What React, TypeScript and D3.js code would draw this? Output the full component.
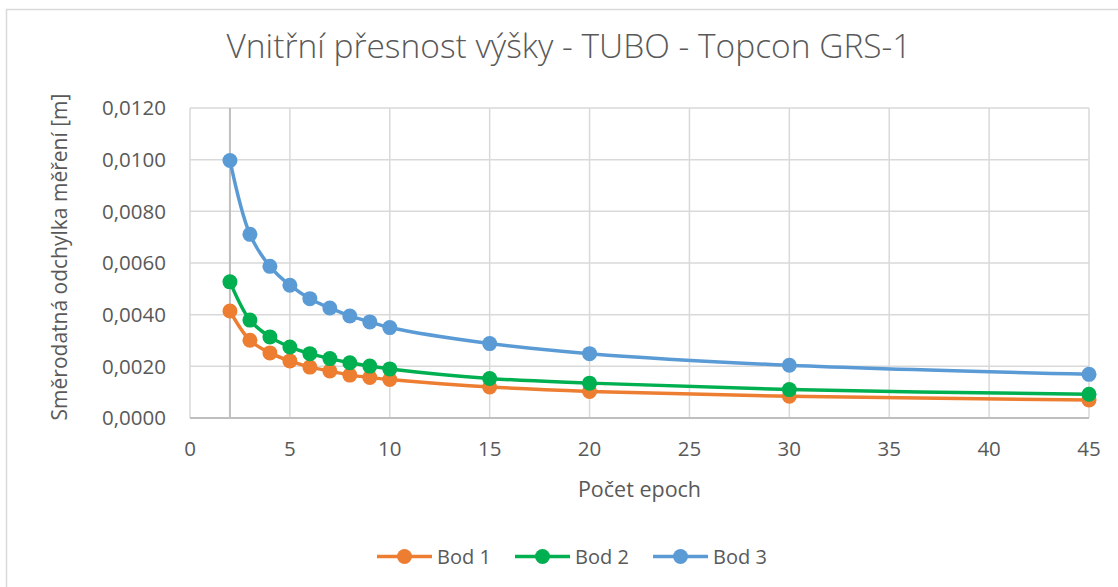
import * as d3 from 'd3';

const epochs = [2, 3, 4, 5, 6, 7, 8, 9, 10, 15, 20, 30, 45];
const bod1 = [0.00414, 0.00301, 0.00252, 0.00221, 0.00197, 0.00182, 0.00166, 0.00157, 0.00149, 0.0012, 0.00103, 0.00084, 0.0007];
const bod2 = [0.00527, 0.00379, 0.00314, 0.00275, 0.00249, 0.0023, 0.00214, 0.00201, 0.0019, 0.00153, 0.00135, 0.0011, 0.00092];
const bod3 = [0.00997, 0.00711, 0.00587, 0.00514, 0.00462, 0.00426, 0.00395, 0.00372, 0.0035, 0.00288, 0.00249, 0.00204, 0.00169];
const seriesNames = ['Bod 1', 'Bod 2', 'Bod 3'];
const seriesColors = ['#ED7D31', '#00B050', '#5B9BD5'];
const xTicks = [0, 5, 10, 15, 20, 25, 30, 35, 40, 45];
const yTicks = [0, 0.002, 0.004, 0.006, 0.008, 0.01, 0.012];

const W = 1118;
const H = 587;
const margin = { left: 190, right: 29, top: 108, bottom: 169 };
const font = '"Open Sans", "Noto Sans", sans-serif';
const textColor = '#595959';

const App = () => {
  const x = d3.scaleLinear([0, 45], [margin.left, W - margin.right]);
  const y = d3.scaleLinear([0, 0.012], [H - margin.bottom, margin.top]);
  const fmt = (v: number) => v.toFixed(4).replace('.', ',');

  const all = [bod1, bod2, bod3];
  const line = d3
    .line<number>()
    .x((_, i) => x(epochs[i]))
    .y((d) => y(d))
    .curve(d3.curveCatmullRom.alpha(0.5));

  return (
    <svg width={W} height={H} style={{ position: 'absolute', left: 0, top: 0, background: '#fff' }}>
      <rect x={6.5} y={9.5} width={W + 20} height={H + 20} fill="#fff" stroke="#d9d9d9" strokeWidth={1.5} />

      <text x={569} y={58} textAnchor="middle" fontFamily={font} fontWeight={300} fontSize={33.5} fill={textColor}>
        Vnitřní přesnost výšky - TUBO - Topcon GRS-1
      </text>

      {/* grid */}
      {yTicks.map((t) => (
        <line key={'gy' + t} x1={x(0)} x2={x(45)} y1={y(t)} y2={y(t)} stroke="#d9d9d9" strokeWidth={1.5} />
      ))}
      {xTicks.map((t) => (
        <line key={'gx' + t} x1={x(t)} x2={x(t)} y1={y(0)} y2={y(0.012)} stroke="#d9d9d9" strokeWidth={1.5} />
      ))}
      {/* vertical axis crossing at x = 2 */}
      <line x1={x(2)} x2={x(2)} y1={y(0)} y2={y(0.012)} stroke="#bfbfbf" strokeWidth={2} />
      <line x1={x(0)} x2={x(45)} y1={y(0)} y2={y(0)} stroke="#bfbfbf" strokeWidth={2} />

      {yTicks.map((t) => (
        <text key={'ly' + t} x={166} y={y(t)} dy="0.36em" textAnchor="end" fontFamily={font} fontSize={20.5} fill={textColor}>
          {fmt(t)}
        </text>
      ))}
      {xTicks.map((t) => (
        <text key={'lx' + t} x={x(t)} y={456} textAnchor="middle" fontFamily={font} fontSize={20.5} fill={textColor}>
          {t}
        </text>
      ))}

      <text x={x(22.5)} y={497} textAnchor="middle" fontFamily={font} fontSize={21.5} fill={textColor}>
        Počet epoch
      </text>
      <text
        transform={`translate(67,${(y(0) + y(0.012)) / 2 - 6}) rotate(-90)`}
        textAnchor="middle"
        fontFamily={font}
        fontSize={21}
        fill={textColor}
      >
        Směrodatná odchylka měření [m]
      </text>

      {all.map((s, k) => (
        <g key={'s' + k}>
          <path d={line(s) ?? ''} fill="none" stroke={seriesColors[k]} strokeWidth={3.5} />
          {s.map((v, i) => (
            <circle key={i} cx={x(epochs[i])} cy={y(v)} r={7.5} fill={seriesColors[k]} />
          ))}
        </g>
      ))}

      {seriesNames.map((n, k) => {
        const lx = 377 + k * 138;
        const ly = 556.5;
        return (
          <g key={'lg' + n}>
            <line x1={lx} x2={lx + 55} y1={ly} y2={ly} stroke={seriesColors[k]} strokeWidth={3.5} />
            <circle cx={lx + 27.5} cy={ly} r={7.5} fill={seriesColors[k]} />
            <text x={lx + 60} y={563.5} fontFamily={font} fontSize={20} fill={textColor}>
              {n}
            </text>
          </g>
        );
      })}
    </svg>
  );
};

export default App;
